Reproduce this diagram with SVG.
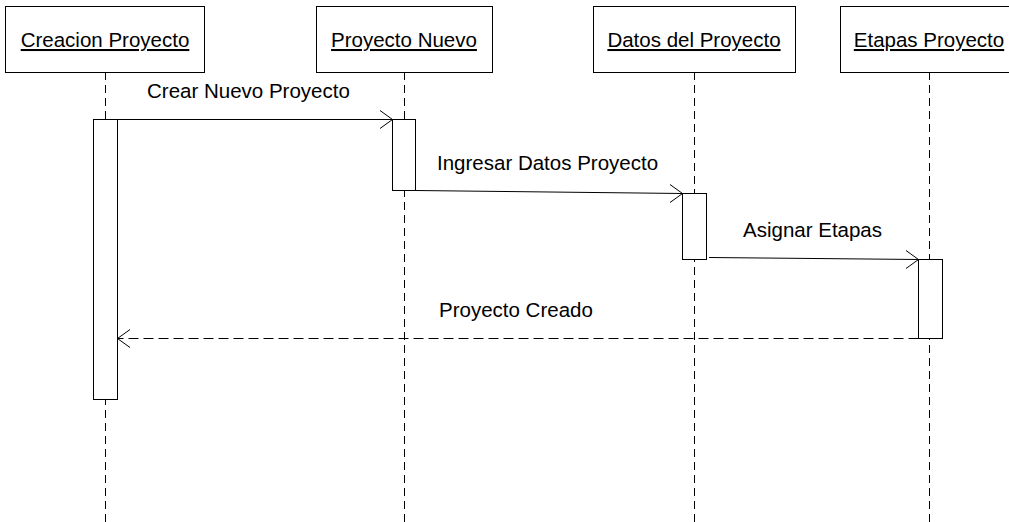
<svg xmlns="http://www.w3.org/2000/svg" width="1009" height="522" viewBox="0 0 1009 522">
<style>
.box{fill:#fff;stroke:#000;stroke-width:1}
.life{stroke:#000;stroke-width:1;stroke-dasharray:8 5;fill:none}
.act{fill:#fff;stroke:#000;stroke-width:1}
.msg{stroke:#000;stroke-width:1;fill:none}
.ret{stroke:#000;stroke-width:1;fill:none;stroke-dasharray:10 5}
.head{stroke:#000;stroke-width:1;fill:none}
text{font-family:"Liberation Sans",Arial,sans-serif;font-size:20.5px;fill:#000}
.t{text-anchor:middle;text-decoration:underline}
</style>
<rect width="1009" height="522" fill="#fff"/>
<g id="lifelines">
<line class="life" x1="105.5" y1="72" x2="105.5" y2="522"/>
<line class="life" x1="404.5" y1="72" x2="404.5" y2="522"/>
<line class="life" x1="694.5" y1="72" x2="694.5" y2="522"/>
<line class="life" x1="929.5" y1="72" x2="929.5" y2="522"/>
</g>
<g id="node-creacion">
<rect class="box" x="5.5" y="6.5" width="199" height="66"/>
<text class="t" x="105" y="47">Creacion Proyecto</text>
</g>
<g id="node-nuevo">
<rect class="box" x="316.5" y="6.5" width="176" height="66"/>
<text class="t" x="404" y="47">Proyecto Nuevo</text>
</g>
<g id="node-datos">
<rect class="box" x="593.5" y="6.5" width="202" height="66"/>
<text class="t" x="694" y="47">Datos del Proyecto</text>
</g>
<g id="node-etapas">
<rect class="box" x="840.5" y="6.5" width="180" height="66"/>
<text class="t" x="929" y="47">Etapas Proyecto</text>
</g>
<g id="activations">
<rect class="act" x="93.5" y="119.5" width="24" height="280"/>
<rect class="act" x="392.5" y="119.5" width="23" height="71"/>
<rect class="act" x="682.5" y="193.5" width="24" height="66"/>
<rect class="act" x="918.5" y="259.5" width="24" height="79"/>
</g>
<g id="connectors">
<line class="msg" x1="117.5" y1="119.5" x2="392.5" y2="119.5"/>
<polyline class="head" points="380,110.5 392.5,119.5 380,128.5"/>
<line class="msg" x1="415.5" y1="190.5" x2="682.5" y2="193.5"/>
<polyline class="head" points="670,184.5 682.5,193.5 670,202.5"/>
<line class="msg" x1="709" y1="257.5" x2="918.5" y2="259.5"/>
<polyline class="head" points="906,250.5 918.5,259.5 906,268.5"/>
<line class="ret" x1="918.5" y1="338.5" x2="117.5" y2="338.5"/>
<polyline class="head" points="130,329.5 117.5,338.5 130,347.5"/>
</g>
<g id="labels">
<text x="147" y="98">Crear Nuevo Proyecto</text>
<text x="437" y="170">Ingresar Datos Proyecto</text>
<text x="743" y="237">Asignar Etapas</text>
<text x="439" y="317">Proyecto Creado</text>
</g>
</svg>
